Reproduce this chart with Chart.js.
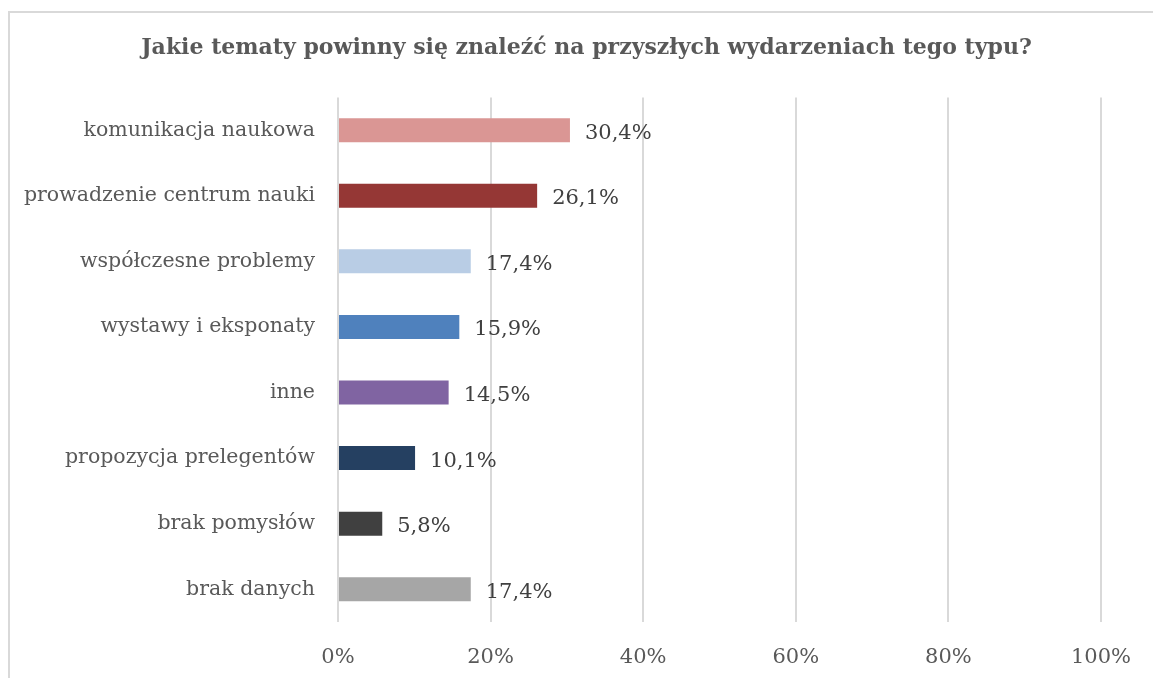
<!DOCTYPE html>
<html>
<head>
<meta charset="utf-8">
<script src="https://cdn.jsdelivr.net/npm/chart.js@4"></script>
<style>
  html, body { margin:0; padding:0; background:#fff; overflow:hidden; width:1153px; height:678px; }
  #frame { position:absolute; left:8px; top:11px; width:1153px; height:678px; border:2px solid #d9d9d9; background:#fff; }
  #c { display:block; }
</style>
</head>
<body>
<div id="frame"><canvas id="c" width="1153" height="678"></canvas></div>
<script>
const TITLE = 'Jakie tematy powinny się znaleźć na przyszłych wydarzeniach tego typu?';
const categories = ['komunikacja naukowa','prowadzenie centrum nauki','współczesne problemy','wystawy i eksponaty','inne','propozycja prelegentów','brak pomysłów','brak danych'];
const values = [30.4, 26.1, 17.4, 15.9, 14.5, 10.1, 5.8, 17.4];
const barColors = ['#DA9694','#953735','#B9CDE5','#4F81BD','#8064A2','#254061','#404040','#A6A6A6'];
const xTicks = [0, 20, 40, 60, 80, 100];

const FONT = "'DejaVu Serif', serif";

const valueLabels = {
  id: 'valueLabels',
  afterDatasetsDraw(chart) {
    const ctx = chart.ctx;
    const meta = chart.getDatasetMeta(0);
    ctx.save();
    ctx.font = '21px ' + FONT;
    ctx.fillStyle = '#404040';
    ctx.textAlign = 'left';
    ctx.textBaseline = 'middle';
    meta.data.forEach((bar, i) => {
      const txt = values[i].toFixed(1).replace('.', ',') + '%';
      ctx.fillText(txt, bar.x + 15, bar.y + 3);
    });
    ctx.restore();
  }
};

new Chart(document.getElementById('c'), {
  type: 'bar',
  data: {
    labels: categories,
    datasets: [{ data: values, backgroundColor: barColors, categoryPercentage: 1, barPercentage: 0.366 }]
  },
  options: {
    indexAxis: 'y',
    responsive: false,
    animation: false,
    layout: { padding: 0 },
    plugins: {
      legend: { display: false },
      tooltip: { enabled: false },
      title: {
        display: true, text: TITLE, color: '#595959',
        font: { family: FONT, size: 22, weight: 'bold', lineHeight: 1.2 },
        padding: { top: 22, bottom: 36 }
      }
    },
    scales: {
      x: {
        min: 0, max: 100,
        afterBuildTicks(s) { s.ticks = xTicks.map(v => ({ value: v })); },
        afterFit(s) { s.height = 69; },
        grid: { color: '#D9D9D9', lineWidth: 2, drawTicks: false },
        border: { display: false },
        ticks: { color: '#595959', font: { family: FONT, size: 21 }, padding: 23, callback: v => v + '%' }
      },
      y: {
        afterFit(s) { s.width = 328; },
        grid: { display: false },
        border: { display: false },
        ticks: { color: '#595959', font: { family: FONT, size: 20.5 }, padding: 15 }
      },
      yRight: {
        type: 'linear',
        position: 'right',
        display: true,
        afterFit(s) { s.width = 62; },
        grid: { display: false },
        border: { display: false },
        ticks: { display: false }
      }
    }
  },
  plugins: [valueLabels]
});
</script>
</body>
</html>
